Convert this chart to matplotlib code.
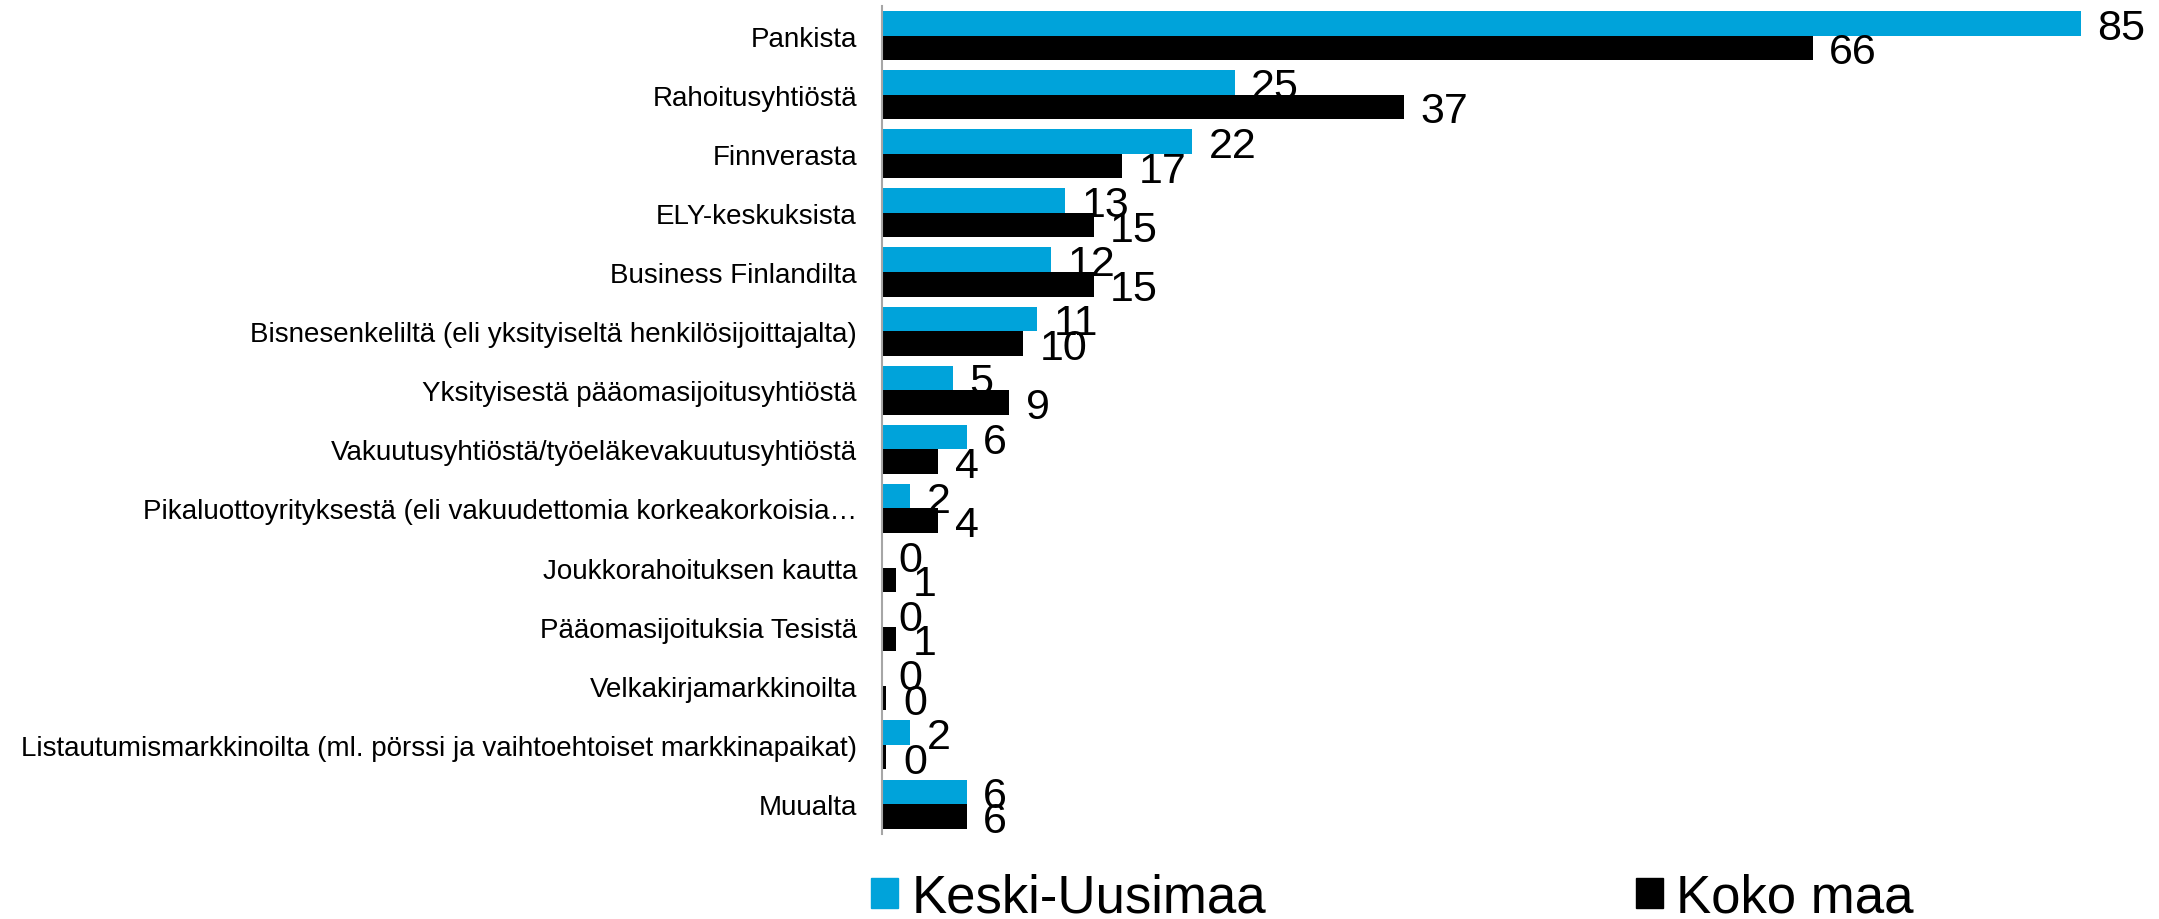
import numpy as np
import matplotlib
matplotlib.use("Agg")
import matplotlib.pyplot as plt
from matplotlib.patches import Rectangle

plt.rcParams['font.family'] = ['Liberation Sans', 'DejaVu Sans']

categories = [
    "Pankista",
    "Rahoitusyhtiöstä",
    "Finnverasta",
    "ELY-keskuksista",
    "Business Finlandilta",
    "Bisnesenkeliltä (eli yksityiseltä henkilösijoittajalta)",
    "Yksityisestä pääomasijoitusyhtiöstä",
    "Vakuutusyhtiöstä/työeläkevakuutusyhtiöstä",
    "Pikaluottoyrityksestä (eli vakuudettomia korkeakorkoisia…",
    "Joukkorahoituksen kautta",
    "Pääomasijoituksia Tesistä",
    "Velkakirjamarkkinoilta",
    "Listautumismarkkinoilta (ml. pörssi ja vaihtoehtoiset markkinapaikat)",
    "Muualta",
]
keski_uusimaa = [85, 25, 22, 13, 12, 11, 5, 6, 2, 0, 0, 0, 2, 6]
koko_maa = [66, 37, 17, 15, 15, 10, 9, 4, 4, 1, 1, 0.3, 0.3, 6]
series_names = ["Keski-Uusimaa", "Koko maa"]
colors = ["#00A3DA", "#000000"]

W, H = 2159, 920
fig = plt.figure(figsize=(W / 100, H / 100), dpi=100)
ax = fig.add_axes([882 / W, (H - 834.6) / H, 1269 / W, 827.6 / H])

n = len(categories)
y = np.arange(n)
h = 0.415
b1 = ax.barh(y - h / 2, keski_uusimaa, height=h, color=colors[0], linewidth=0)
b2 = ax.barh(y + h / 2, koko_maa, height=h, color=colors[1], linewidth=0)

for bars, vals in ((b1, keski_uusimaa), (b2, koko_maa)):
    for rect, v in zip(bars, vals):
        ax.annotate(f"{v:.0f}", xy=(rect.get_width(), rect.get_y() + rect.get_height() / 2),
                    xytext=(12, 0), textcoords="offset points",
                    ha="left", va="center_baseline", fontsize=31, color="black",
                    annotation_clip=False)

ax.set_xlim(0, 90)
ax.set_ylim(n - 0.5, -0.5)
ax.set_yticks(y)
ax.set_yticklabels(categories, fontsize=20)
ax.tick_params(axis="y", length=0, pad=18)
ax.set_xticks([])
for s in ("top", "right", "bottom"):
    ax.spines[s].set_visible(False)
ax.spines["left"].set_color("#A6A6A6")
ax.spines["left"].set_linewidth(1.5)

handles = [Rectangle((0, 0), 1, 1, color=c) for c in colors]
fig.legend(handles, series_names, loc="center left",
           bbox_to_anchor=(871 / W, 21 / H), ncol=2, frameon=False,
           fontsize=38, handlelength=0.51, handleheight=0.51,
           handletextpad=0.26, columnspacing=7.0, borderpad=0, borderaxespad=0)

fig.savefig("out.png", dpi=100)
